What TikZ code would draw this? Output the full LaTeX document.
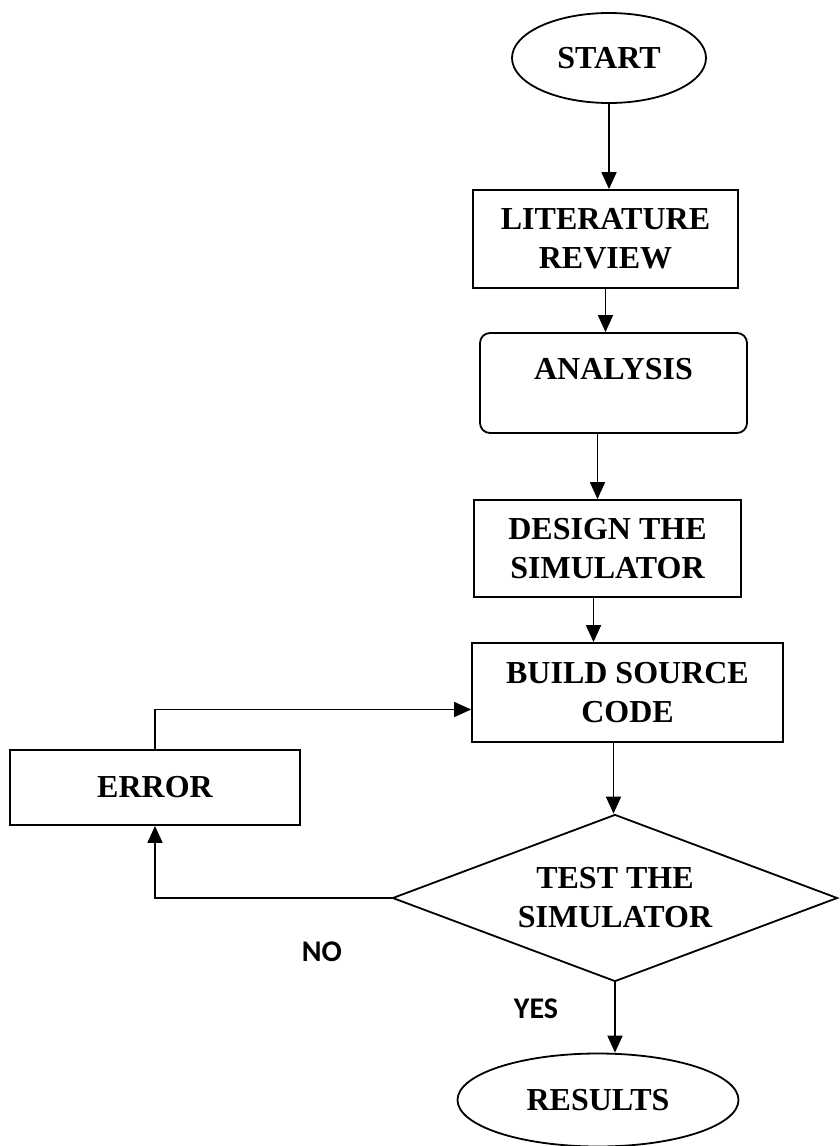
\documentclass[tikz,border=0pt]{standalone}
\usepackage{fontspec}
\setmainfont{Liberation Serif}
\newfontfamily\answerfont{Carlito}
\usetikzlibrary{arrows.meta,shapes.geometric}

\begin{document}
\begin{tikzpicture}[x=1pt,y=-1pt,->,>={Triangle[width=15pt,length=17pt]},line width=1.8pt,
		font=\fontsize{32}{39}\selectfont\bfseries]
		\tikzstyle{terminal}=[draw,ellipse,inner sep=0pt]
		\tikzstyle{process}=[draw,rectangle,align=center,inner sep=0pt]
		\tikzstyle{decision}=[draw,diamond,align=center,inner sep=0pt,shape aspect=2.66]
		\tikzstyle{answer}=[font=\answerfont\fontsize{30}{36}\selectfont\bfseries]

		\useasboundingbox (0,0) rectangle (840,1146);

		\node[terminal,minimum width=194pt,minimum height=90pt] (start) at (609,58) {START};
		\node[process,minimum width=265pt,minimum height=98pt] (lit) at (605.5,239) {LITERATURE\\REVIEW};
		\node[process,rounded corners=10pt,minimum width=267pt,minimum height=100pt,
			text height=22pt,text depth=30pt] (ana) at (613.5,383) {ANALYSIS};
		\node[process,minimum width=267pt,minimum height=97pt] (design) at (607.5,548.5) {DESIGN THE\\SIMULATOR};
		\node[process,minimum width=311pt,minimum height=99pt] (build) at (627.5,692.5) {BUILD SOURCE\\CODE};
		\node[process,minimum width=290pt,minimum height=75pt] (error) at (155,787.5) {ERROR};
		\node[decision,minimum width=445pt,minimum height=167pt] (test) at (615,898) {TEST THE\\SIMULATOR};
		\node[terminal,minimum width=281pt,minimum height=93pt] (results) at (598,1100) {RESULTS};

		\node[answer] (no) at (322,952) {NO};
		\node[answer] (yes) at (536,1009) {YES};

		% main flow
		\draw (start) -- (start |- lit.north);
		\draw (lit) -- (lit |- ana.north);
		\draw ([xshift=-10pt]design.north |- ana.south) -- ([xshift=-10pt]design.north);
		\draw ([xshift=-14pt]design.south) -- ([xshift=-14pt]design.south |- build.north);
		\draw ([xshift=-14pt]build.south) -- ([xshift=-14pt]build.south |- test.north);
		\draw (test) -- (test |- results.north);

		% failed test goes back through the error box
		\draw (test.west) -| (error.south);
		\draw (error.north) |- ([yshift=-17pt]build.west);
	\end{tikzpicture}
\end{document}
